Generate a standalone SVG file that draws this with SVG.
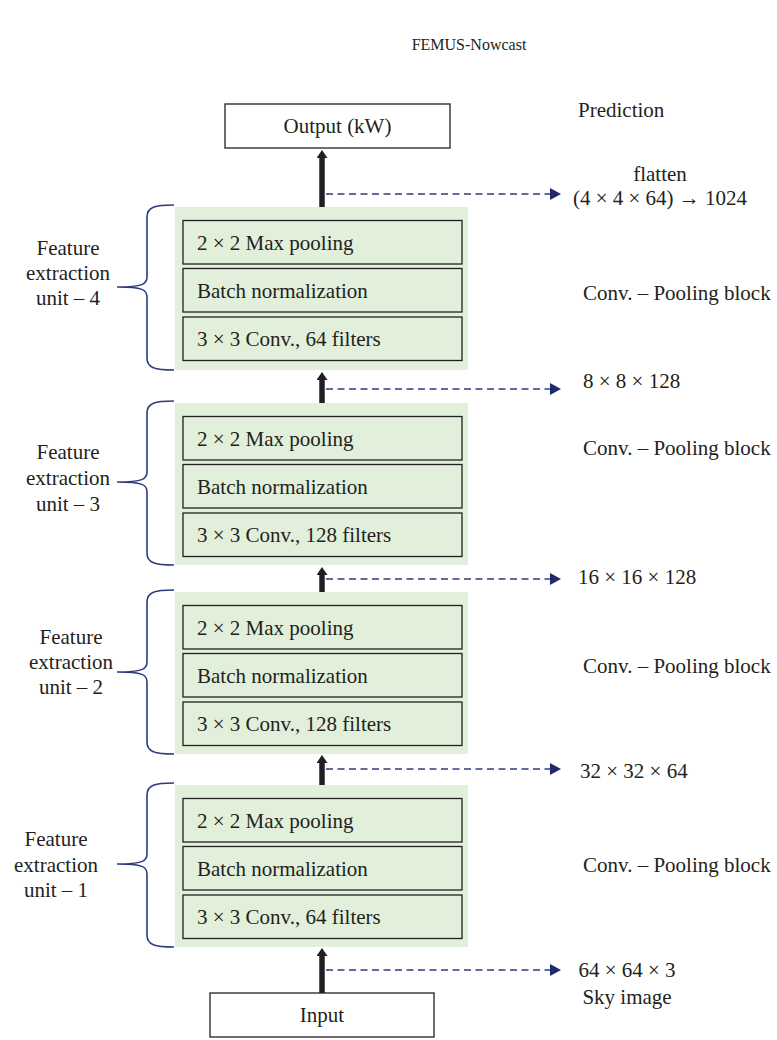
<svg xmlns="http://www.w3.org/2000/svg" width="777" height="1040" viewBox="0 0 777 1040">
<defs>
<style>
text{font-family:"Liberation Serif","Times New Roman",serif;fill:#231f20;font-size:21px}
.title{font-size:16px}
.green{fill:#e2efda}
.box{fill:#e2efda;stroke:#231f20;stroke-width:1.3}
.wbox{fill:#ffffff;stroke:#231f20;stroke-width:1.3}
.brace{fill:none;stroke:#2e3b80;stroke-width:1.6}
.shaft{stroke:#231f20;stroke-width:5.5;fill:none}
.dash{stroke:#2e3b80;stroke-width:1.5;stroke-dasharray:7 4.5;fill:none}
.mid{text-anchor:middle}
</style>
<marker id="bh" markerUnits="userSpaceOnUse" viewBox="0 0 8 11" refX="2" refY="5.5" markerWidth="8" markerHeight="11" orient="auto">
<path d="M0,0 L8,5.5 L0,11 z" fill="#231f20"/>
</marker>
<marker id="nh" markerUnits="userSpaceOnUse" viewBox="0 0 11 12" refX="0" refY="6" markerWidth="11" markerHeight="12" orient="auto">
<path d="M0,0 L11,6 L0,12 z" fill="#1f2a6b"/>
</marker>
</defs>
<rect width="777" height="1040" fill="#ffffff"/>
<text class="title mid" x="469" y="50">FEMUS-Nowcast</text>

<g id="output">
<rect class="wbox" x="225" y="104" width="225" height="44"/>
<text class="mid" x="337.5" y="133">Output (kW)</text>
</g>
<g id="input">
<rect class="wbox" x="210" y="993" width="224" height="44"/>
<text class="mid" x="322" y="1022">Input</text>
</g>

<g id="unit4">
<rect class="green" x="175" y="207" width="293" height="163"/>
<rect class="box" x="183" y="220.5" width="279" height="43.5"/>
<rect class="box" x="183" y="268.5" width="279" height="43.5"/>
<rect class="box" x="183" y="317" width="279" height="43.5"/>
<text x="197" y="249.5">2 × 2 Max pooling</text>
<text x="197" y="297.5">Batch normalization</text>
<text x="197" y="346">3 × 3 Conv., 64 filters</text>
<path class="brace" d="M174,205 C155,205 147,207 147,217 L147,277 C147,284 143,287 117,287 C143,287 147,290 147,297 L147,358 C147,368 155,370 174,370"/>
<text class="mid" x="68" y="255">Feature</text>
<text class="mid" x="68" y="280">extraction</text>
<text class="mid" x="68" y="305">unit – 4</text>
<text x="583" y="300">Conv. – Pooling block</text>
</g>

<g id="unit3">
<rect class="green" x="175" y="403" width="293" height="162"/>
<rect class="box" x="183" y="416.5" width="279" height="43.5"/>
<rect class="box" x="183" y="464.5" width="279" height="43.5"/>
<rect class="box" x="183" y="513" width="279" height="43.5"/>
<text x="197" y="445.5">2 × 2 Max pooling</text>
<text x="197" y="493.5">Batch normalization</text>
<text x="197" y="542">3 × 3 Conv., 128 filters</text>
<path class="brace" d="M174,401 C155,401 147,403 147,413 L147,472 C147,479 143,482 117,482 C143,482 147,485 147,492 L147,553 C147,563 155,565 174,565"/>
<text class="mid" x="68" y="459">Feature</text>
<text class="mid" x="68" y="485">extraction</text>
<text class="mid" x="68" y="511">unit – 3</text>
<text x="583" y="455">Conv. – Pooling block</text>
</g>

<g id="unit2">
<rect class="green" x="175" y="592" width="293" height="162"/>
<rect class="box" x="183" y="605.5" width="279" height="43.5"/>
<rect class="box" x="183" y="653.5" width="279" height="43.5"/>
<rect class="box" x="183" y="702" width="279" height="43.5"/>
<text x="197" y="634.5">2 × 2 Max pooling</text>
<text x="197" y="682.5">Batch normalization</text>
<text x="197" y="731">3 × 3 Conv., 128 filters</text>
<path class="brace" d="M174,590 C155,590 147,592 147,602 L147,662 C147,669 143,672 117,672 C143,672 147,675 147,682 L147,742 C147,752 155,754 174,754"/>
<text class="mid" x="71" y="644">Feature</text>
<text class="mid" x="71" y="669">extraction</text>
<text class="mid" x="71" y="694">unit – 2</text>
<text x="583" y="673">Conv. – Pooling block</text>
</g>

<g id="unit1">
<rect class="green" x="175" y="785" width="293" height="162"/>
<rect class="box" x="183" y="798.5" width="279" height="43.5"/>
<rect class="box" x="183" y="846.5" width="279" height="43.5"/>
<rect class="box" x="183" y="895" width="279" height="43.5"/>
<text x="197" y="827.5">2 × 2 Max pooling</text>
<text x="197" y="875.5">Batch normalization</text>
<text x="197" y="924">3 × 3 Conv., 64 filters</text>
<path class="brace" d="M174,783 C155,783 147,785 147,795 L147,854 C147,861 143,864 117,864 C143,864 147,867 147,874 L147,935 C147,945 155,947 174,947"/>
<text class="mid" x="56" y="846">Feature</text>
<text class="mid" x="56" y="872">extraction</text>
<text class="mid" x="56" y="897">unit – 1</text>
<text x="583" y="872">Conv. – Pooling block</text>
</g>

<g id="labels">
<text x="578" y="117">Prediction</text>
<text class="mid" x="660" y="181">flatten</text>
<text class="mid" x="660" y="205">(4 × 4 × 64) → 1024</text>
<text x="583" y="388">8 × 8 × 128</text>
<text x="578" y="584">16 × 16 × 128</text>
<text x="580" y="778">32 × 32 × 64</text>
<text class="mid" x="627" y="977">64 × 64 × 3</text>
<text class="mid" x="627" y="1004">Sky image</text>
</g>

<g id="connectors">
<line class="shaft" x1="322" y1="207" x2="322" y2="156" marker-end="url(#bh)"/>
<line class="shaft" x1="322" y1="403" x2="322" y2="378" marker-end="url(#bh)"/>
<line class="shaft" x1="322" y1="592" x2="322" y2="573" marker-end="url(#bh)"/>
<line class="shaft" x1="322" y1="785" x2="322" y2="761" marker-end="url(#bh)"/>
<line class="shaft" x1="322" y1="993" x2="322" y2="954" marker-end="url(#bh)"/>
<line class="dash" x1="326" y1="194" x2="550" y2="194" marker-end="url(#nh)"/>
<line class="dash" x1="326" y1="389" x2="550" y2="389" marker-end="url(#nh)"/>
<line class="dash" x1="326" y1="579" x2="550" y2="579" marker-end="url(#nh)"/>
<line class="dash" x1="326" y1="769" x2="550" y2="769" marker-end="url(#nh)"/>
<line class="dash" x1="326" y1="970" x2="550" y2="970" marker-end="url(#nh)"/>
</g>
</svg>
